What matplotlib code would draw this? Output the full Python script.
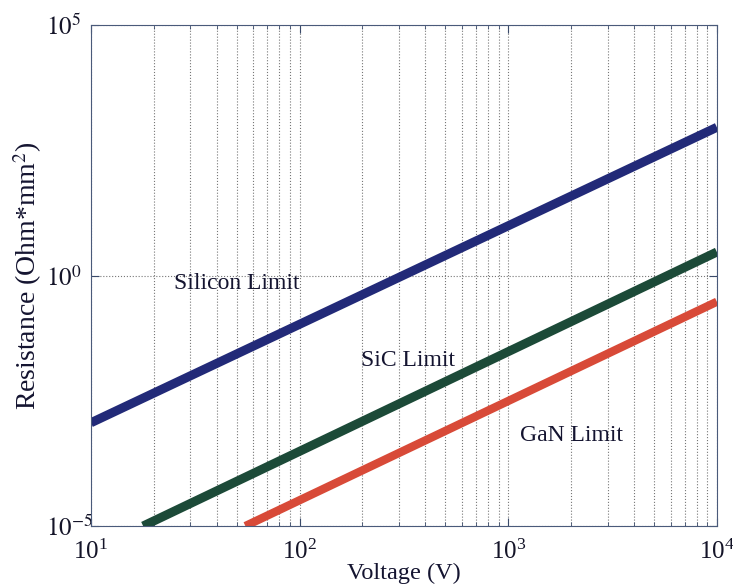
import numpy as np
import matplotlib
matplotlib.use('Agg')
import matplotlib.pyplot as plt
from matplotlib.ticker import LogLocator, NullFormatter, FixedLocator

plt.rcParams['font.family'] = ['Liberation Serif', 'DejaVu Serif']
plt.rcParams['mathtext.fontset'] = 'stix'

# Unipolar limits (end points)
si_v = [10, 10000]
si_r = [1.15e-3, 9.1e2]
sic_v = [17.8, 10000]
sic_r = [1e-5, 2.95]
gan_v = [55, 10000]
gan_r = [1e-5, 0.30]

labels = ['Silicon Limit', 'SiC Limit', 'GaN Limit']
label_pos = [(50, 0.7), (330, 0.02), (2000, 6.3e-4)]

fig = plt.figure(figsize=(7.33, 5.88), dpi=100)
ax = fig.add_axes([0.124, 0.1054, 0.854, 0.852])

ax.plot(si_v, si_r, color='#222a78', lw=6.5, solid_capstyle='butt')
ax.plot(sic_v, sic_r, color='#1c4a38', lw=6.5, solid_capstyle='butt')
ax.plot(gan_v, gan_r, color='#d84a38', lw=6, solid_capstyle='butt')

ax.set_xscale('log')
ax.set_yscale('log')
ax.set_xlim(10, 1e4)
ax.set_ylim(1e-5, 1e5)

ax.xaxis.set_major_locator(LogLocator(base=10, numticks=10))
ax.xaxis.set_minor_locator(LogLocator(base=10, subs=np.arange(2, 10), numticks=20))
ax.xaxis.set_minor_formatter(NullFormatter())
ax.yaxis.set_major_locator(FixedLocator([1e-5, 1e0, 1e5]))
ax.yaxis.set_minor_locator(FixedLocator([]))
ax.set_yticklabels([r'$10^{-5}$', r'$10^{0}$', r'$10^{5}$'], ha='left')

ax.grid(True, which='both', axis='x', linestyle=':', color='#777777', lw=0.8)
ax.grid(True, which='major', axis='y', linestyle=':', color='#777777', lw=0.8)

ax.tick_params(which='both', direction='in', top=True, right=True,
               colors='#3a4a6a', labelcolor='#141428', labelsize=18)
ax.tick_params(which='major', length=6)
ax.tick_params(which='minor', length=3)
ax.tick_params(axis='x', pad=10)
ax.tick_params(axis='y', pad=32)
for s in ax.spines.values():
    s.set_color('#4a5a7a')

for txt, (x, y) in zip(labels, label_pos):
    ax.text(x, y, txt, fontsize=17, color='#141430', ha='center', va='center')

ax.set_xlabel('Voltage (V)', fontsize=17.5, color='#141430', labelpad=-1)
ax.set_ylabel('Resistance (Ohm*mm$^2$)', fontsize=20, color='#141430', labelpad=2)

fig.savefig('out.png', dpi=100)
